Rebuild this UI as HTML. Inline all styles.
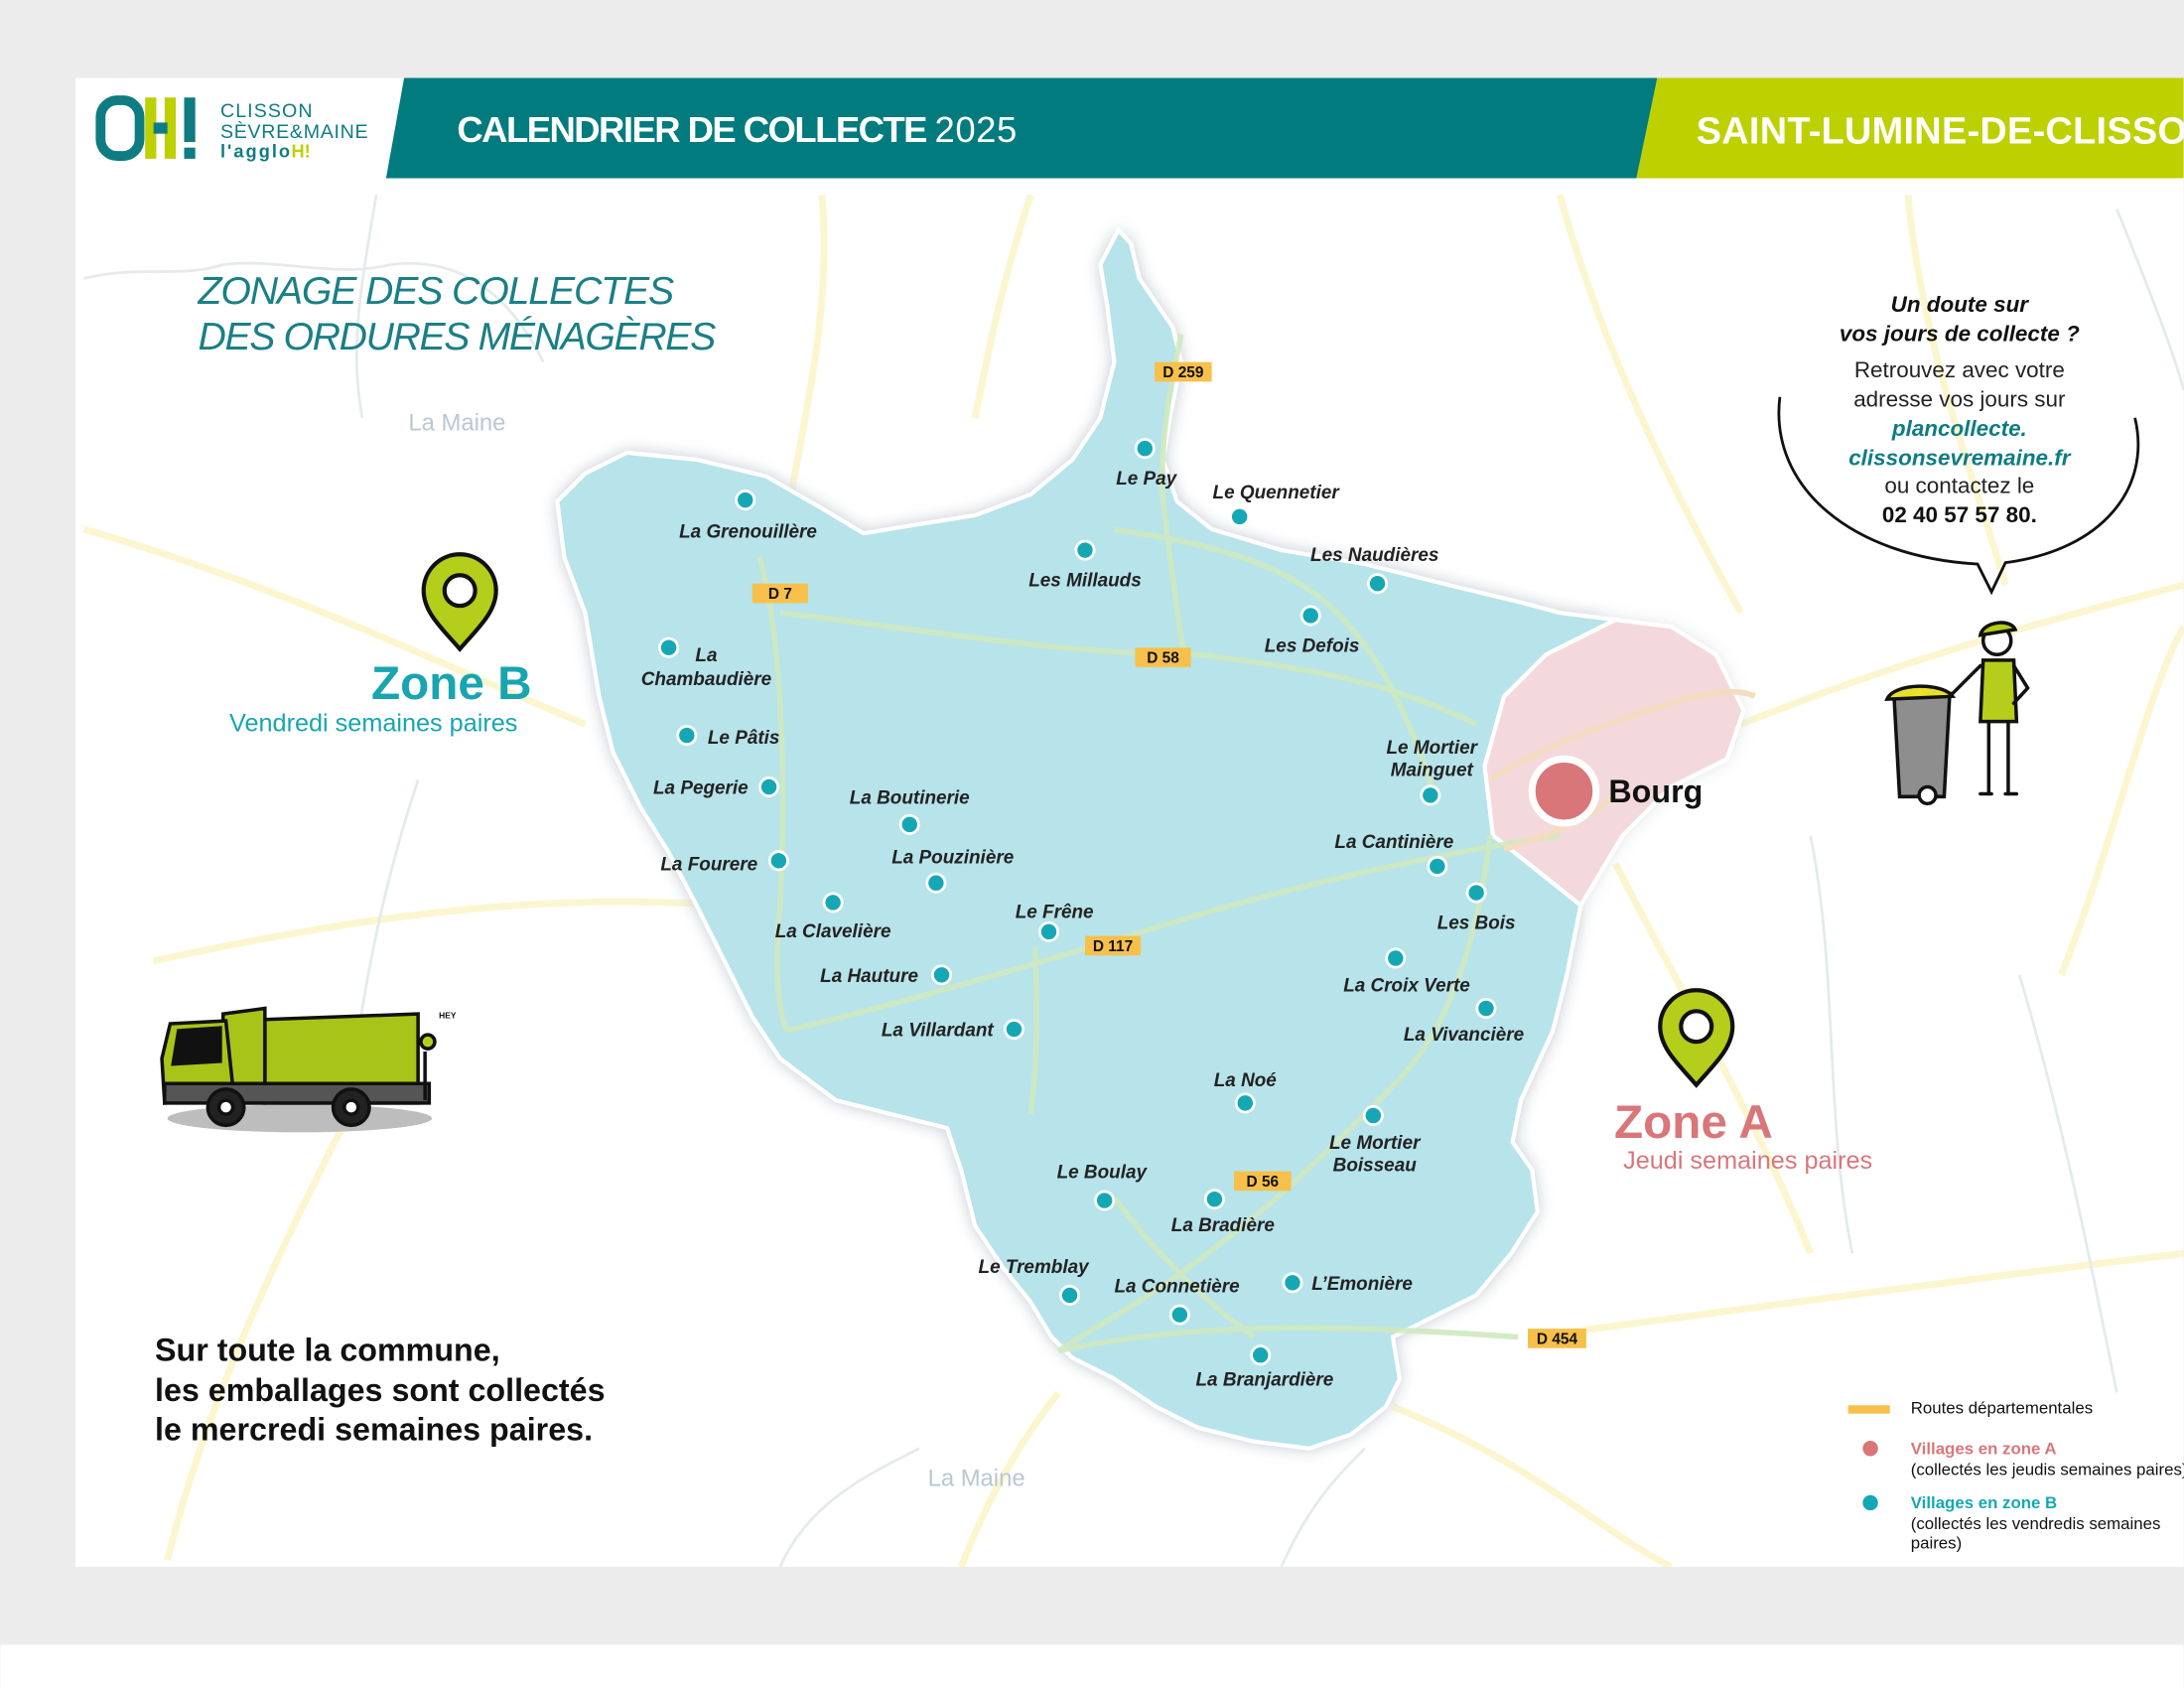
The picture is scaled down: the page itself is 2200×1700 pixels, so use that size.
<!DOCTYPE html>
<html><head><meta charset="utf-8"><style>
html,body{margin:0;padding:0;background:#ececec;}
svg{display:block;}
text{font-family:"Liberation Sans",sans-serif;}
.v{font-size:13.5px;font-weight:bold;font-style:italic;fill:#222;}
.d{fill:#15a8b4;stroke:#fff;stroke-width:2;}
.rl{font-size:11px;font-weight:bold;fill:#111;}
</style></head><body>
<svg width="2200" height="1700" viewBox="0 0 1568 1212" xmlns="http://www.w3.org/2000/svg">
<defs>
<filter id="sh" x="-10%" y="-10%" width="120%" height="120%"><feGaussianBlur stdDeviation="6"/></filter>
<clipPath id="card"><rect x="54" y="56" width="1514" height="1069"/></clipPath>
</defs>
<rect width="1568" height="1212" fill="#ececec"/>
<rect x="0" y="1181" width="1568" height="31" fill="#fff"/>
<rect x="54" y="56" width="1514" height="1069" fill="#fff"/>
<g clip-path="url(#card)">
<!-- faint background roads -->
<g fill="none" stroke="#fbf6cf" stroke-width="5">
<path d="M60 380 C200 420 300 470 420 520"/>
<path d="M110 690 C250 660 380 640 520 650"/>
<path d="M250 800 C200 900 150 1000 120 1120"/>
<path d="M590 140 C600 250 560 350 560 430"/>
<path d="M740 140 C720 200 710 250 700 300"/>
<path d="M1120 140 C1150 250 1200 350 1250 440"/>
<path d="M1370 140 C1380 250 1420 350 1440 420"/>
<path d="M1250 520 C1350 480 1450 450 1568 420"/>
<path d="M1160 620 C1200 700 1260 800 1300 900"/>
<path d="M1100 960 C1250 940 1400 920 1568 900"/>
<path d="M760 1000 C720 1050 700 1100 690 1125"/>
<path d="M1000 1010 C1100 1050 1150 1100 1200 1125"/>
<path d="M1480 700 C1520 600 1540 500 1568 450"/>
</g>
<g fill="none" stroke="#e5eaec" stroke-width="2">
<path d="M60 200 C100 190 130 200 160 190 C200 185 240 200 280 190 C320 185 360 200 390 260"/>
<path d="M270 140 C260 200 250 250 260 300"/>
<path d="M300 560 C280 620 260 700 250 800"/>
<path d="M1300 600 C1320 700 1310 800 1330 900"/>
<path d="M1450 700 C1480 800 1500 900 1520 1000"/>
<path d="M560 1125 C580 1080 620 1060 660 1040"/>
<path d="M920 1125 C940 1080 960 1060 980 1040"/>
<path d="M1520 150 C1540 200 1560 250 1568 280"/>
</g>
<!-- map shadow & polygon -->
<path id="mp" d="M803 165 L812 175 L818 200 L842 235 L848 260 L840 300 L835 330 L845 360 L870 380 L920 395 L980 405 L1040 420 L1090 432 L1120 440 L1160 445 L1110 470 L1080 500 L1066 550 L1072 600 L1100 622 L1135 650 L1125 700 L1115 740 L1092 790 L1086 820 L1100 840 L1104 870 L1085 900 L1060 930 L1030 945 L1000 960 L1005 990 L995 1010 L970 1030 L940 1040 L900 1035 L860 1025 L830 1010 L800 990 L770 975 L755 960 L740 935 L720 910 L700 880 L690 840 L680 810 L640 800 L600 790 L560 760 L540 730 L520 690 L500 650 L480 612 L460 580 L440 540 L430 500 L420 440 L405 400 L400 360 L420 340 L450 325 L500 330 L550 342 L590 365 L620 383 L650 378 L700 370 L740 355 L770 330 L790 300 L800 260 L795 220 L790 190 Z" fill="#c0c8cf" filter="url(#sh)" opacity="0.8"/>
<path d="M1160 445 L1110 470 L1080 500 L1066 550 L1072 600 L1100 622 L1135 650 L1165 600 L1200 565 L1240 545 L1252 510 L1232 470 L1200 450 Z" fill="#c0c8cf" filter="url(#sh)" opacity="0.6"/>
<use href="#mp" fill="#b7e3ea" stroke="#fff" stroke-width="2"/>
<path d="M803 165 L812 175 L818 200 L842 235 L848 260 L840 300 L835 330 L845 360 L870 380 L920 395 L980 405 L1040 420 L1090 432 L1120 440 L1160 445 L1110 470 L1080 500 L1066 550 L1072 600 L1100 622 L1135 650 L1125 700 L1115 740 L1092 790 L1086 820 L1100 840 L1104 870 L1085 900 L1060 930 L1030 945 L1000 960 L1005 990 L995 1010 L970 1030 L940 1040 L900 1035 L860 1025 L830 1010 L800 990 L770 975 L755 960 L740 935 L720 910 L700 880 L690 840 L680 810 L640 800 L600 790 L560 760 L540 730 L520 690 L500 650 L480 612 L460 580 L440 540 L430 500 L420 440 L405 400 L400 360 L420 340 L450 325 L500 330 L550 342 L590 365 L620 383 L650 378 L700 370 L740 355 L770 330 L790 300 L800 260 L795 220 L790 190 Z" fill="#b7e3ea" stroke="#fff" stroke-width="3"/>
<path d="M1160 445 L1110 470 L1080 500 L1066 550 L1072 600 L1100 622 L1135 650 L1165 600 L1200 565 L1240 545 L1252 510 L1232 470 L1200 450 Z" fill="#f3d9dc" stroke="#fff" stroke-width="3"/>
<!-- roads inside -->
<g fill="none" stroke="#cfe9c0" stroke-width="4" opacity="0.9">
<path d="M848 240 C840 280 832 320 835 360 C840 400 845 440 850 470"/>
<path d="M545 400 C560 450 565 550 560 650 C555 700 560 730 565 740"/>
<path d="M560 440 C650 450 760 470 860 470 C940 480 1000 490 1060 520"/>
<path d="M800 380 C860 390 920 400 960 440 C990 470 1010 510 1030 570"/>
<path d="M565 740 C650 720 750 690 850 660 C950 630 1050 610 1120 600"/>
<path d="M1070 600 C1060 680 1040 740 1000 780 C960 820 920 860 880 890 C830 930 790 950 760 970"/>
<path d="M760 970 C850 950 950 950 1090 960"/>
<path d="M743 680 C745 720 745 760 740 800"/>
<path d="M800 860 C830 900 860 930 900 960"/>
</g>
<path d="M1070 560 C1100 540 1150 520 1200 505 C1230 495 1250 495 1260 500" fill="none" stroke="#f3dcc0" stroke-width="4"/>
<path d="M1080 610 C1110 600 1140 590 1160 570" fill="none" stroke="#f3dcc0" stroke-width="4"/>
<!-- road labels -->
<g>
<rect x="829" y="260" width="41" height="14" fill="#f7c04a"/><text x="849.5" y="271" class="rl" text-anchor="middle">D 259</text>
<rect x="540" y="419" width="40" height="14" fill="#f7c04a"/><text x="560" y="430" class="rl" text-anchor="middle">D 7</text>
<rect x="815" y="465" width="40" height="14" fill="#f7c04a"/><text x="835" y="476" class="rl" text-anchor="middle">D 58</text>
<rect x="779" y="672" width="40" height="14" fill="#f7c04a"/><text x="799" y="683" class="rl" text-anchor="middle">D 117</text>
<rect x="886" y="841" width="41" height="14" fill="#f7c04a"/><text x="906.5" y="852" class="rl" text-anchor="middle">D 56</text>
<rect x="1097" y="954" width="42" height="14" fill="#f7c04a"/><text x="1118" y="965" class="rl" text-anchor="middle">D 454</text>
</g>
<!-- villages -->
<g>
<circle class="d" cx="535" cy="359" r="6.5"/><text class="v" x="537" y="386" text-anchor="middle">La Grenouillère</text>
<circle class="d" cx="822" cy="322" r="6.5"/><text class="v" x="823" y="348" text-anchor="middle">Le Pay</text>
<circle class="d" cx="890" cy="371" r="6.5"/><text class="v" x="916" y="358" text-anchor="middle">Le Quennetier</text>
<circle class="d" cx="779" cy="395" r="6.5"/><text class="v" x="779" y="421" text-anchor="middle">Les Millauds</text>
<circle class="d" cx="989" cy="419" r="6.5"/><text class="v" x="987" y="403" text-anchor="middle">Les Naudières</text>
<circle class="d" cx="941" cy="442" r="6.5"/><text class="v" x="942" y="468" text-anchor="middle">Les Defois</text>
<circle class="d" cx="480" cy="465" r="6.5"/><text class="v" x="507" y="475" text-anchor="middle">La</text><text class="v" x="507" y="492" text-anchor="middle">Chambaudière</text>
<circle class="d" cx="493" cy="528" r="6.5"/><text class="v" x="508" y="534">Le Pâtis</text>
<circle class="d" cx="552" cy="565" r="6.5"/><text class="v" x="503" y="570" text-anchor="middle">La Pegerie</text>
<circle class="d" cx="653" cy="592" r="6.5"/><text class="v" x="653" y="577" text-anchor="middle">La Boutinerie</text>
<circle class="d" cx="672" cy="634" r="6.5"/><text class="v" x="684" y="620" text-anchor="middle">La Pouzinière</text>
<circle class="d" cx="559" cy="618" r="6.5"/><text class="v" x="509" y="625" text-anchor="middle">La Fourere</text>
<circle class="d" cx="598" cy="648" r="6.5"/><text class="v" x="598" y="673" text-anchor="middle">La Clavelière</text>
<circle class="d" cx="753" cy="669" r="6.5"/><text class="v" x="757" y="659" text-anchor="middle">Le Frêne</text>
<circle class="d" cx="676" cy="700" r="6.5"/><text class="v" x="624" y="705" text-anchor="middle">La Hauture</text>
<circle class="d" cx="728" cy="739" r="6.5"/><text class="v" x="673" y="744" text-anchor="middle">La Villardant</text>
<circle class="d" cx="1027" cy="571" r="6.5"/><text class="v" x="1028" y="541" text-anchor="middle">Le Mortier</text><text class="v" x="1028" y="557" text-anchor="middle">Mainguet</text>
<circle class="d" cx="1032" cy="622" r="6.5"/><text class="v" x="1001" y="609" text-anchor="middle">La Cantinière</text>
<circle class="d" cx="1060" cy="641" r="6.5"/><text class="v" x="1060" y="667" text-anchor="middle">Les Bois</text>
<circle class="d" cx="1002" cy="688" r="6.5"/><text class="v" x="1010" y="712" text-anchor="middle">La Croix Verte</text>
<circle class="d" cx="1067" cy="724" r="6.5"/><text class="v" x="1051" y="747" text-anchor="middle">La Vivancière</text>
<circle class="d" cx="894" cy="792" r="6.5"/><text class="v" x="894" y="780" text-anchor="middle">La Noé</text>
<circle class="d" cx="986" cy="801" r="6.5"/><text class="v" x="987" y="825" text-anchor="middle">Le Mortier</text><text class="v" x="987" y="841" text-anchor="middle">Boisseau</text>
<circle class="d" cx="793" cy="862" r="6.5"/><text class="v" x="791" y="846" text-anchor="middle">Le Boulay</text>
<circle class="d" cx="872" cy="861" r="6.5"/><text class="v" x="878" y="884" text-anchor="middle">La Bradière</text>
<circle class="d" cx="768" cy="930" r="6.5"/><text class="v" x="742" y="914" text-anchor="middle">Le Tremblay</text>
<circle class="d" cx="847" cy="944" r="6.5"/><text class="v" x="845" y="928" text-anchor="middle">La Connetière</text>
<circle class="d" cx="928" cy="921" r="6.5"/><text class="v" x="978" y="926" text-anchor="middle">L’Emonière</text>
<circle class="d" cx="905" cy="973" r="6.5"/><text class="v" x="908" y="995" text-anchor="middle">La Branjardière</text>
</g>
<!-- Bourg -->
<circle cx="1123" cy="568" r="23" fill="#d9767a" stroke="#fff" stroke-width="5"/>
<text x="1155" y="576" font-size="23" font-weight="bold" fill="#111">Bourg</text>
<!-- la maine -->
<text x="328" y="309" font-size="17" fill="#b9c9d0" text-anchor="middle">La Maine</text>
<text x="701" y="1067" font-size="17" fill="#b9c9d0" text-anchor="middle">La Maine</text>
<!-- title -->
<text x="142" y="218" font-size="28" font-style="italic" fill="#1a7f86" textLength="342">ZONAGE DES COLLECTES</text>
<text x="142" y="251" font-size="28" font-style="italic" fill="#1a7f86" textLength="372">DES ORDURES MÉNAGÈRES</text>
<!-- Zone B -->
<g transform="translate(330,432)">
<path d="M0 34 C-12 20 -26 8 -26 -8 A26 26 0 1 1 26 -8 C26 8 12 20 0 34 Z" fill="#b5cd1b" stroke="#111" stroke-width="3"/>
<circle cx="0" cy="-8" r="11" fill="#fff" stroke="#111" stroke-width="3"/>
</g>
<text x="324" y="502" font-size="34" font-weight="bold" fill="#18a5b0" text-anchor="middle">Zone B</text>
<text x="268" y="525" font-size="18" fill="#18a5b0" text-anchor="middle">Vendredi semaines paires</text>
<!-- Zone A -->
<g transform="translate(1218,745)">
<path d="M0 34 C-12 20 -26 8 -26 -8 A26 26 0 1 1 26 -8 C26 8 12 20 0 34 Z" fill="#b5cd1b" stroke="#111" stroke-width="3"/>
<circle cx="0" cy="-8" r="11" fill="#fff" stroke="#111" stroke-width="3"/>
</g>
<text x="1216" y="817" font-size="34" font-weight="bold" fill="#d9767a" text-anchor="middle">Zone A</text>
<text x="1255" y="839" font-size="18" fill="#d9767a" text-anchor="middle">Jeudi semaines paires</text>
<!-- bubble -->
<path d="M1278 285 C1270 350 1330 400 1420 405 L1430 425 L1440 404 C1510 395 1545 350 1533 300" fill="none" stroke="#111" stroke-width="2"/>
<g text-anchor="middle" font-size="16" fill="#222">
<text x="1407" y="224" font-weight="bold" font-style="italic" fill="#111">Un doute sur</text>
<text x="1407" y="245" font-weight="bold" font-style="italic" fill="#111">vos jours de collecte ?</text>
<text x="1407" y="271">Retrouvez avec votre</text>
<text x="1407" y="292">adresse vos jours sur</text>
<text x="1407" y="313" font-weight="bold" font-style="italic" fill="#0f7c82">plancollecte.</text>
<text x="1407" y="334" font-weight="bold" font-style="italic" fill="#0f7c82">clissonsevremaine.fr</text>
<text x="1407" y="354">ou contactez le</text>
<text x="1407" y="375" font-weight="bold" fill="#111">02 40 57 57 80.</text>
</g>
<!-- man & bin -->
<g stroke="#111" stroke-width="2.5" stroke-linecap="round">
<path d="M1360 500 L1400 498 L1396 572 L1364 572 Z" fill="#8e8e8e"/>
<path d="M1355 502 C1360 490 1395 490 1402 500 Z" fill="#e8e02a"/>
<circle cx="1384" cy="571" r="6" fill="#fff"/>
<line x1="1400" y1="500" x2="1422" y2="478"/>
<circle cx="1434" cy="460" r="10" fill="#fff"/>
<path d="M1422 456 C1424 446 1444 444 1447 452 Z" fill="#b5cd1b"/>
<path d="M1424 474 L1446 474 L1448 518 L1422 518 Z" fill="#b5cd1b"/>
<line x1="1446" y1="478" x2="1456" y2="494"/><line x1="1456" y1="494" x2="1446" y2="505"/>
<line x1="1428" y1="518" x2="1428" y2="570"/><line x1="1442" y1="518" x2="1442" y2="570"/>
<line x1="1422" y1="570" x2="1430" y2="570"/><line x1="1440" y1="570" x2="1448" y2="570"/>
</g>
<!-- truck -->
<ellipse cx="215" cy="803" rx="95" ry="10" fill="#bdbdbd"/>
<g stroke="#111" stroke-width="2.5">
<path d="M190 732 L300 728 L300 792 L190 792 Z" fill="#a9c418"/>
<path d="M160 728 L190 724 L190 792 L160 792 Z" fill="#a9c418"/>
<path d="M122 735 L162 733 L168 790 L118 792 L116 760 Z" fill="#a9c418"/>
<path d="M128 740 L158 738 L158 762 L124 764 Z" fill="#111"/>
<rect x="118" y="778" width="190" height="14" fill="#555"/>
<circle cx="162" cy="795" r="13" fill="#222"/><circle cx="162" cy="795" r="5" fill="#fff"/>
<circle cx="252" cy="795" r="13" fill="#222"/><circle cx="252" cy="795" r="5" fill="#fff"/>
<line x1="305" y1="755" x2="305" y2="790"/><circle cx="307" cy="748" r="5" fill="#b5cd1b"/>
</g>
<text x="315" y="731" font-size="6" font-weight="bold" fill="#111">HEY</text>
<!-- bottom text -->
<g font-size="23" font-weight="bold" fill="#111">
<text x="111" y="977">Sur toute la commune,</text>
<text x="111" y="1006">les emballages sont collectés</text>
<text x="111" y="1034">le mercredi semaines paires.</text>
</g>
<!-- legend -->
<rect x="1327" y="1009" width="30" height="6" fill="#f7c04a"/>
<text x="1372" y="1015" font-size="12" fill="#111">Routes départementales</text>
<circle cx="1343" cy="1040" r="5.5" fill="#d9767a"/>
<text x="1372" y="1044" font-size="12" font-weight="bold" fill="#d9767a">Villages en zone A</text>
<text x="1372" y="1059" font-size="12" fill="#111">(collectés les jeudis semaines paires)</text>
<circle cx="1343" cy="1079" r="5.5" fill="#15a8b4"/>
<text x="1372" y="1083" font-size="12" font-weight="bold" fill="#15a8b4">Villages en zone B</text>
<text x="1372" y="1098" font-size="12" fill="#111">(collectés les vendredis semaines</text>
<text x="1372" y="1112" font-size="12" fill="#111">paires)</text>
<!-- header -->
<polygon points="290,56 1190,56 1175,128 277,128" fill="#017b7e"/>
<polygon points="1190,56 1568,56 1568,128 1175,128" fill="#bdd000"/>
<text x="328" y="102" font-size="26" font-weight="bold" fill="#fff" textLength="338">CALENDRIER DE COLLECTE</text>
<text x="671" y="102" font-size="26" fill="#fff" textLength="59">2025</text>
<text x="1218" y="103" font-size="27" font-weight="bold" fill="#fff" textLength="372">SAINT-LUMINE-DE-CLISSON</text>
<!-- logo -->
<g>
<rect x="72" y="72" width="28" height="40" rx="12" fill="none" stroke="#0f7c82" stroke-width="7"/>
<rect x="104" y="70" width="8" height="44" fill="#bdd000"/>
<rect x="118" y="70" width="8" height="44" fill="#bdd000"/>
<rect x="110" y="88" width="10" height="8" fill="#0f7c82"/>
<rect x="132" y="70" width="8" height="32" fill="#0f7c82"/><rect x="132" y="106" width="8" height="8" fill="#0f7c82"/>
<text x="158" y="84" font-size="14" fill="#0f7c82" textLength="66">CLISSON</text>
<text x="158" y="99" font-size="14" fill="#0f7c82" textLength="106">SÈVRE&amp;MAINE</text>
<text x="158" y="113" font-size="13" font-weight="bold" fill="#0f7c82" textLength="50">l'agglo</text>
<text x="209" y="113" font-size="13" font-weight="bold" fill="#bdd000">H!</text>
</g>
</g>
</svg>
</body></html>
